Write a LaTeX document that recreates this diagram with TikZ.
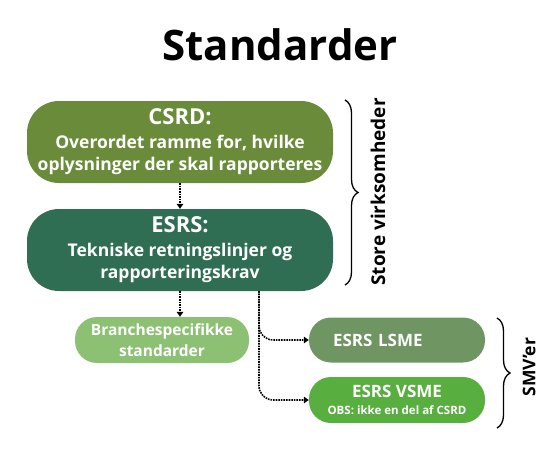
\documentclass[tikz,border=0pt]{standalone}
\usepackage{fontspec}
\setmainfont{Open Sans}
\usepackage{tikz}
\usetikzlibrary{arrows.meta, decorations.pathreplacing}

\definecolor{csrdgreen}{HTML}{6A8C3A}
\definecolor{esrsgreen}{HTML}{2F6E52}
\definecolor{branchgreen}{HTML}{8CC073}
\definecolor{lsmegreen}{HTML}{6F9562}
\definecolor{vsmegreen}{HTML}{58AE3F}

\begin{document}
\begin{tikzpicture}[x=1pt, y=-1pt,
        pill/.style={rounded corners=22pt, text=white, align=center, inner sep=0pt},
        bigpill/.style={pill, rounded corners=32pt, minimum width=306pt, minimum height=82pt,
              font=\bfseries\fontsize{17.5}{22}\selectfont},
        flow/.style={densely dotted, line width=1.6pt, -{Triangle[width=6.5pt,length=5pt]}},
        curly/.style={decorate, decoration={brace, amplitude=13pt}, line width=1.3pt}]
        \useasboundingbox (0,0) rectangle (560,450);

        \node (title) at (280,45) {\fontsize{42}{46}\selectfont\bfseries Standarder};

        \node[bigpill, fill=csrdgreen] (csrd) at (180,142)
            {{\fontsize{22}{22}\selectfont CSRD:}\\[2pt]Overordet ramme for, hvilke\\oplysninger der skal rapporteres};
        \node[bigpill, fill=esrsgreen] (esrs) at (180,250)
            {{\fontsize{22}{22}\selectfont ESRS:}\\[2pt]Tekniske retningslinjer og\\rapporteringskrav};

        \node[pill, fill=branchgreen, minimum width=174pt, minimum height=46pt,
              font=\bfseries\fontsize{15.5}{21}\selectfont] (branch) at (162,340)
            {Branchespecifikke\\standarder};
        \node[pill, fill=lsmegreen, minimum width=176pt, minimum height=45pt, text width=128pt, inner xsep=24pt, align=left,
              font=\bfseries\fontsize{17}{20}\selectfont] (lsme) at (397,340)
            {ESRS LSME};
        \node[pill, fill=vsmegreen, minimum width=176pt, minimum height=46pt,
              font=\bfseries\fontsize{17}{17}\selectfont] (vsme) at (397,400)
            {ESRS VSME\\{\fontsize{11.5}{12}\selectfont OBS: ikke en del af CSRD}};

        % pile
        \draw[flow] (csrd.south) -- (esrs.north);
        \draw[flow] (esrs.south) -- (esrs.south |- branch.north);
        \coordinate (fork) at (259,291);
        \draw[flow, rounded corners=14pt] (fork) |- (lsme.west);
        \draw[flow, rounded corners=14pt] (fork) |- (vsme.west);

        % klammer
        \draw[curly] (345,100) -- (345,285);
        \node[rotate=90, font=\bfseries\fontsize{19}{22}\selectfont] (store) at (378,192) {Store virksomheder};
        \draw[curly] (497,318) -- (497,428);
        \node[rotate=90, font=\bfseries\fontsize{17.5}{20}\selectfont] (smv) at (529,367) {SMV’er};
\end{tikzpicture}
\end{document}
